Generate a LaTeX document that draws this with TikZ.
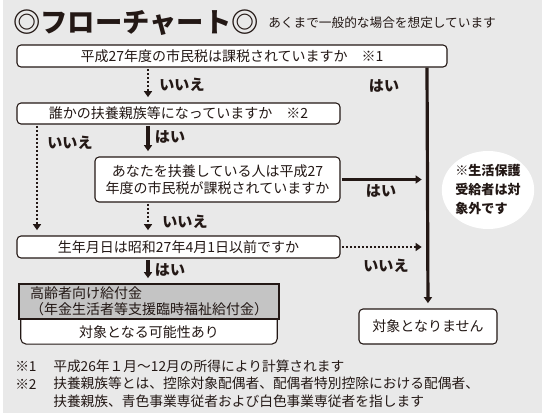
\documentclass[tikz,border=0pt]{standalone}
\usepackage{fontspec}
\setmainfont{Noto Sans CJK JP}
\usetikzlibrary{shapes.geometric,arrows.meta,positioning,backgrounds}

\definecolor{ink}{HTML}{231815}
\definecolor{pagegray}{HTML}{E9E9E9}
\definecolor{benefitgray}{HTML}{C4C4C4}

\newcommand\titlefont{\fontsize{20.5}{23}\selectfont\bfseries}
\newcommand\subfont{\fontsize{9.5}{11}\selectfont}
\newcommand\boxfont{\fontsize{10.5}{12.75}\selectfont}
\newcommand\ansfont{\fontsize{11.3}{13}\selectfont\bfseries}
\newcommand\notefont{\fontsize{9.8}{14.25}\selectfont\bfseries}
\newcommand\footfont{\fontsize{10.3}{13.5}\selectfont}

\begin{document}
\begin{tikzpicture}[
    x=0.75pt, y=-0.75pt,
    box/.style={rectangle, draw=ink, fill=white, line width=0.8pt, rounded corners=3pt, inner sep=0pt, align=center, font=\boxfont, text=ink},
    ans/.style={font=\ansfont, text=ink, inner sep=0pt},
    foot/.style={font=\footfont, text=ink, inner sep=0pt, anchor=west, align=left},
    solidarr/.style={-{Triangle[width=6pt,length=4.5pt]}, draw=ink, line width=2.4pt, shorten >=4pt, shorten <=1pt},
    dotarr/.style={-{Triangle[width=6pt,length=4.5pt]}, draw=ink, line width=1.8pt, dash pattern=on 1.5pt off 1.5pt, shorten >=4pt, shorten <=1pt}
]
\useasboundingbox (0,0) rectangle (542,418);

% page
\begin{scope}[on background layer]
\fill[white] (0,0) rectangle (542,418);
\fill[pagegray] (3,0) rectangle (542,413);
\end{scope}

% heading
\node[anchor=west, font=\titlefont, text=ink, inner sep=0pt] (title) at (13,23) {◎フローチャート◎};
\node[anchor=west, font=\subfont, text=ink, inner sep=0pt] (subtitle) at (268,23) {あくまで一般的な場合を想定しています};

% columns for the connectors
\coordinate (mid) at (148,0);
\coordinate (side) at (37,0);
\coordinate (rail) at (427,0);

% questions
\node[box, minimum width=322.5pt, minimum height=16.5pt] (q1) at (232,56) {平成27年度の市民税は課税されていますか　※1};
\node[box, minimum width=242.25pt, minimum height=15.75pt] (q2) at (178.5,113.5) {誰かの扶養親族等になっていますか　※2};
\node[box, minimum width=183.75pt, minimum height=33.75pt] (q3) at (217.5,179.5) {あなたを扶養している人は平成27\\年度の市民税が課税されていますか};
\node[box, minimum width=242.25pt, minimum height=16.5pt] (q4) at (178.5,247) {生年月日は昭和27年4月1日以前ですか};

% results
\node[rectangle, draw=ink, fill=benefitgray, line width=0.8pt, minimum width=195pt, minimum height=26.25pt, inner sep=0pt, align=left, font=\fontsize{10.5}{12}\selectfont, text=ink] (benefit) at (149,301.5) {高齢者向け給付金\\（年金生活者等支援臨時福祉給付金）};
\node[below=0pt of benefit, minimum width=192pt, minimum height=18pt, inner sep=0pt, font=\boxfont, text=ink] (possible) {対象となる可能性あり};
\node[box, minimum width=103.5pt, minimum height=26.25pt] (none) at (428,326.5) {対象となりません};

\node[ellipse, fill=white, minimum width=61.5pt, minimum height=58.5pt, inner sep=0pt, align=left, font=\notefont, text=ink] (note) at (488,190) {※生活保護\\受給者は対\\象外です};

% connectors
\draw[dotarr] (q1.south -| mid) -- (q2.north -| mid);
\draw[solidarr] (q2.south -| mid) -- (q3.north -| mid);
\draw[dotarr] (q2.south -| side) -- (q4.north -| side);
\draw[dotarr] (q3.south -| mid) -- (q4.north -| mid);
\draw[solidarr] (q4.south -| mid) -- (benefit.north -| mid);
\draw[solidarr] (q3.east) -- (q3.east -| rail);
\draw[dotarr] (q4.east) -- (q4.east -| rail);
\draw[solidarr, shorten <=0pt] (q1.south -| rail) -- (none.north);

% answers
\node[ans] (no1) at (182,85) {いいえ};
\node[ans] (yes1) at (384,86) {はい};
\node[ans] (no2) at (70,143) {いいえ};
\node[ans] (yes2) at (170,137) {はい};
\node[ans] (yes3) at (381,191) {はい};
\node[ans] (no3) at (185,222) {いいえ};
\node[ans] (no4) at (386,266) {いいえ};
\node[ans] (yes4) at (170,270) {はい};

% footnotes
\node[foot] (fn1) at (15,366) {※1};
\node[foot] (fn1text) at (53,366) {平成26年１月～12月の所得により計算されます};
\node[foot] (fn2) at (15,384) {※2};
\node[foot, anchor=north west] (fn2text) at (53,377) {扶養親族等とは、控除対象配偶者、配偶者特別控除における配偶者、\\扶養親族、青色事業専従者および白色事業専従者を指します};

% open frame under the benefit box
\begin{scope}[on background layer]
\draw[draw=ink, fill=white, line width=0.8pt, rounded corners=4pt] (possible.north west) -- (possible.south west) -- (possible.south east) -- (possible.north east);
\end{scope}

\end{tikzpicture}
\end{document}
